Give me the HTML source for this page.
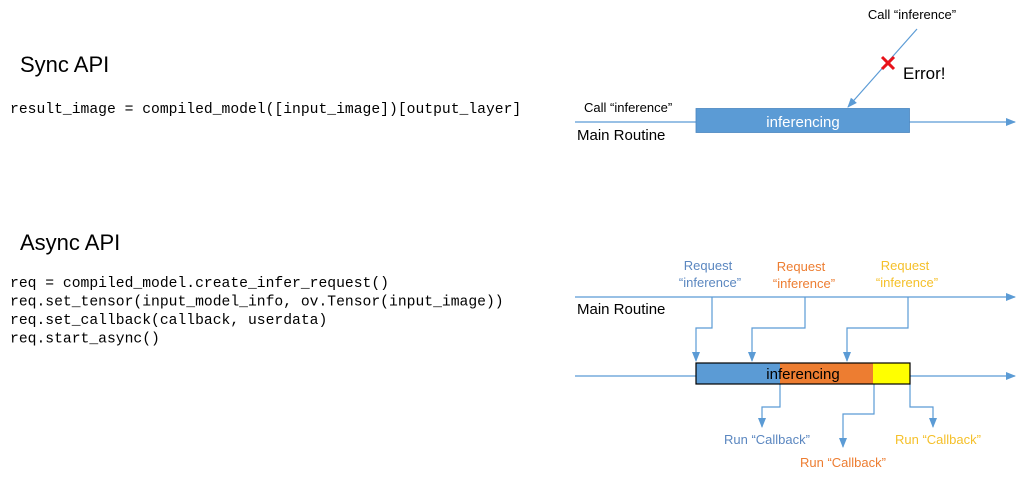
<!DOCTYPE html>
<html><head><meta charset="utf-8"><style>
html,body{margin:0;padding:0;background:#fff;}
svg{display:block;}
.t{font-family:"Liberation Sans","DejaVu Sans",sans-serif;}
.m{font-family:"Liberation Mono","DejaVu Sans Mono",monospace;font-size:14.7px;fill:#000;}
</style></head><body>
<svg width="1025" height="479" viewBox="0 0 1025 479" xmlns="http://www.w3.org/2000/svg">
<defs>
<marker id="a" markerWidth="10" markerHeight="10" refX="9" refY="5" orient="auto" markerUnits="userSpaceOnUse"><path d="M0,1 L10,5 L0,9 z" fill="#5b9bd5"/></marker>
</defs>
<text class="t" x="20" y="72" font-size="22">Sync API</text>
<text class="m" x="10" y="113">result_image = compiled_model([input_image])[output_layer]</text>
<text class="t" x="20" y="250" font-size="22">Async API</text>
<text class="m" x="10" y="287">req = compiled_model.create_infer_request()</text>
<text class="m" x="10" y="305.5">req.set_tensor(input_model_info, ov.Tensor(input_image))</text>
<text class="m" x="10" y="324">req.set_callback(callback, userdata)</text>
<text class="m" x="10" y="342.5">req.start_async()</text>

<!-- sync diagram -->
<g stroke="#5b9bd5" stroke-width="1.2" fill="none">
<line x1="575" y1="122" x2="1015" y2="122" marker-end="url(#a)"/>
<line x1="917" y1="29" x2="848" y2="107" marker-end="url(#a)"/>
</g>
<rect x="696" y="108.5" width="213.5" height="24" fill="#5b9bd5" stroke="#4a86c0" stroke-width="0.8"/>
<text class="t" x="803" y="127" font-size="15" fill="#fff" text-anchor="middle">inferencing</text>
<text class="t" x="912" y="19" font-size="13" text-anchor="middle">Call “inference”</text>
<text class="t" x="584" y="112" font-size="13">Call “inference”</text>
<text class="t" x="577" y="140" font-size="15">Main Routine</text>
<g stroke="#e8121a" stroke-width="3"><line x1="882" y1="57" x2="894" y2="69"/><line x1="894" y1="57" x2="882" y2="69"/></g>
<text class="t" x="903" y="79" font-size="17">Error!</text>

<!-- async diagram -->
<g stroke="#5b9bd5" stroke-width="1.2" fill="none">
<line x1="575" y1="297" x2="1015" y2="297" marker-end="url(#a)"/>
<line x1="575" y1="376" x2="1015" y2="376" marker-end="url(#a)"/>
<polyline points="712,297 712,328 696,328 696,361" marker-end="url(#a)"/>
<polyline points="805,297 805,328 752,328 752,361" marker-end="url(#a)"/>
<polyline points="908,297 908,328 847,328 847,361" marker-end="url(#a)"/>
<polyline points="780,384 780,407 762,407 762,427" marker-end="url(#a)"/>
<polyline points="874,384 874,414 843,414 843,447" marker-end="url(#a)"/>
<polyline points="910,384 910,407 933,407 933,427" marker-end="url(#a)"/>
</g>
<rect x="696" y="363" width="84" height="21" fill="#5b9bd5"/>
<rect x="780" y="363" width="93" height="21" fill="#ed7d31"/>
<rect x="873" y="363" width="37" height="21" fill="#ffff00"/>
<rect x="696" y="363" width="214" height="21" fill="none" stroke="#000" stroke-width="1.2"/>
<text class="t" x="803" y="379" font-size="15" text-anchor="middle">inferencing</text>
<text class="t" x="577" y="314" font-size="15">Main Routine</text>
<g font-size="13" text-anchor="middle" class="t">
<text x="708" y="270" fill="#5b87c0">Request</text><text x="710" y="287" fill="#5b87c0">“inference”</text>
<text x="801" y="271" fill="#ed7d31">Request</text><text x="804" y="288" fill="#ed7d31">“inference”</text>
<text x="905" y="270" fill="#f5c02a">Request</text><text x="907" y="287" fill="#f5c02a">“inference”</text>
<text x="767" y="444" fill="#5b87c0">Run “Callback”</text>
<text x="843" y="467" fill="#ed7d31">Run “Callback”</text>
<text x="938" y="444" fill="#f5c02a">Run “Callback”</text>
</g>
</svg>
</body></html>
